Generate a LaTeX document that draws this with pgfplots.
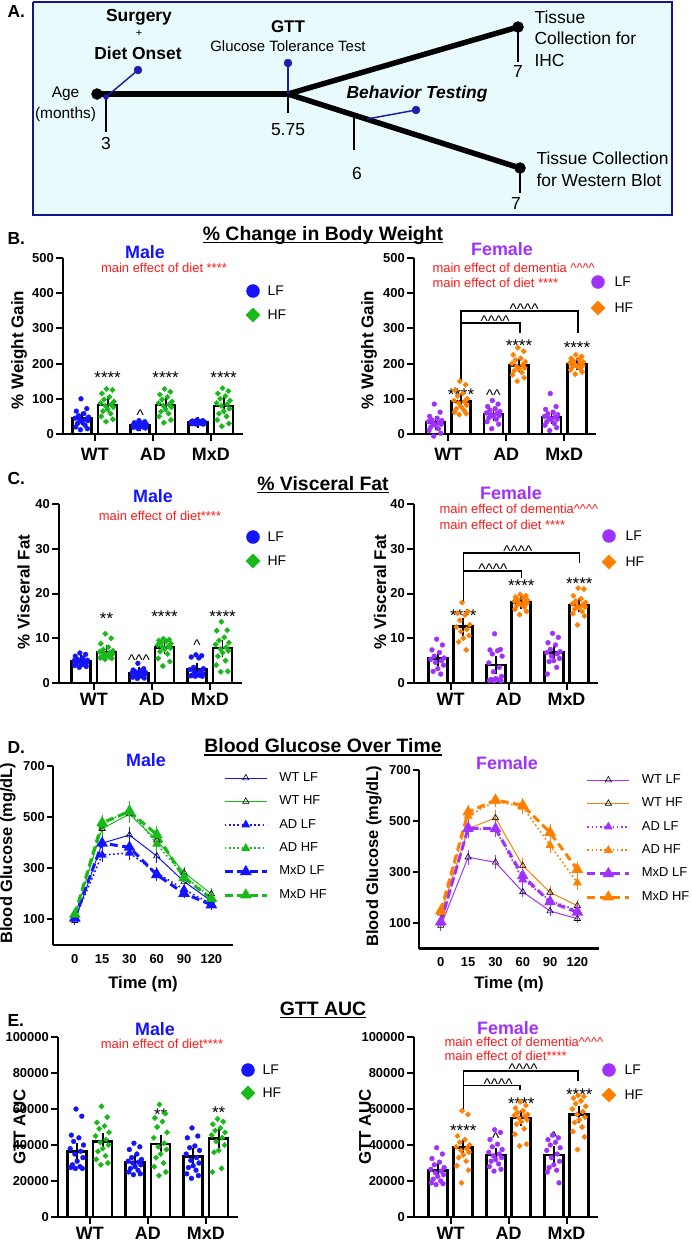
\documentclass[border=0pt]{standalone}
\usepackage{pgfplots}
\pgfplotsset{compat=1.18}
\usepackage{fontspec}
\setmainfont{Liberation Sans}

\definecolor{mblue}{RGB}{20,20,255}
\definecolor{mgreen}{RGB}{25,185,25}
\definecolor{fpurple}{RGB}{160,50,255}
\definecolor{forange}{RGB}{255,128,0}
\definecolor{nred}{RGB}{255,25,25}
\definecolor{navy}{RGB}{20,20,140}
\definecolor{tblue}{RGB}{30,30,170}
\definecolor{boxfill}{RGB}{232,250,252}
\newcommand{\fz}[1]{\fontsize{#1}{#1}\selectfont}
\newcommand{\ca}{\textasciicircum}

\pgfplotsset{
  barax/.style={scale only axis, anchor=south west, axis lines=left,
    axis line style={line width=2.2bp,-}, xmax=2.55, ymin=0, clip=false,
    xtick={0,1,2}, xticklabels={WT,AD,MxD},
    tick style={line width=2bp,black}, major tick length=7bp, tick align=outside,
    xticklabel style={font=\fz{18}\bfseries, inner sep=3bp},
    yticklabel style={font=\fz{13}\bfseries, inner sep=2bp},
    /pgf/number format/assume math mode=true, scaled y ticks=false},
  bars/.style={ybar, bar width=19bp, bar shift=0pt, fill=white, draw=black, line width=2.6bp,
    error bars/.cd, y dir=both, y explicit, error bar style={line width=1.8bp,black},
    error mark options={mark size=5bp,line width=1.8bp,black}},
  lfpt/.style={only marks, mark=*, mark size=2.4bp, #1},
  hfpt/.style={only marks, mark=square*, mark size=1.9bp, mark options={rotate=45}, #1},
  lineax/.style={scale only axis, anchor=south west, axis lines=left,
    axis line style={line width=2.2bp,-}, xmin=-0.8, xmax=5.8, ymin=0, ymax=700,
    clip=false, width=180.2bp,
    xtick={0,...,5}, xticklabels={0,15,30,60,90,120}, ytick={100,300,500,700},
    ytick style={line width=2bp,black}, xtick style={draw=none},
    major tick length=6bp, tick align=outside,
    ticklabel style={font=\fz{13}\bfseries},
    xticklabel style={inner sep=3bp}, yticklabel style={inner sep=2bp},
    /pgf/number format/assume math mode=true,
    legend cell align=left,
    legend style={draw=none, fill=none, font=\fz{13}, anchor=north west, inner sep=0pt,
      row sep=10.9bp, nodes={inner sep=0pt, text height=9.5bp, text depth=3bp},
      /tikz/every odd column/.append style={column sep=11bp}},
    legend image code/.code={\draw[mark repeat=2,mark phase=2,#1] plot coordinates {(0bp,0bp) (21bp,0bp) (42bp,0bp)};}},
  errD/.style={error bars/.cd, y dir=both, y explicit, error bar style={solid, line width=1bp},
    error mark options={solid, mark size=3bp, line width=1bp}},
  wt/.style={solid, line width=1bp, mark=triangle, mark size=3.6bp,
    mark options={solid, draw=black, fill=white, line width=0.6bp}},
  ad/.style={line width=1.6bp, dash pattern=on 1.6bp off 2.6bp, mark=triangle*, mark size=3.6bp,
    mark options={solid}},
  mxd/.style={line width=3bp, dash pattern=on 8bp off 4.5bp, mark=triangle*, mark size=3.8bp,
    mark options={solid}},
}

\begin{document}
\begin{tikzpicture}
\useasboundingbox (0,0) rectangle (692bp,-1240bp);

% ---------- canvas in pixel units: panel A, headings, legends ----------
\begin{axis}[at={(0bp,0bp)}, anchor=north west, scale only axis, width=692bp, height=1240bp,
  xmin=0, xmax=692, ymin=0, ymax=1240, y dir=reverse, hide axis, clip=false]
% panel A
\addplot[draw=navy, line width=2.5bp, fill=boxfill] coordinates {(33,2) (672,2) (672,215) (33,215) (33,2)};
\addplot[line width=1.5bp, black] coordinates {(106,94) (106,132)};
\addplot[line width=1.5bp, black] coordinates {(288,94) (288,113)};
\addplot[line width=1.5bp, black] coordinates {(354,115) (354,150)};
\addplot[line width=1.5bp, black] coordinates {(518,27) (518,62)};
\addplot[line width=1.5bp, black] coordinates {(520,168) (520,193)};
\addplot[line width=5.5bp, black] coordinates {(97,94) (288,94)};
\addplot[line width=5.5bp, black] coordinates {(288,94) (518,27)};
\addplot[line width=5.5bp, black] coordinates {(288,94) (520,168)};
\addplot[only marks, mark=*, mark size=5.5bp, black] coordinates {(97,94) (518,27) (520,168)};
\addplot[line width=1.5bp, tblue] coordinates {(106,97) (138,70)};
\addplot[line width=1.5bp, tblue] coordinates {(288,94) (288,63)};
\addplot[line width=1.5bp, tblue] coordinates {(367,119) (416,110)};
\addplot[only marks, mark=*, mark size=4bp, tblue] coordinates {(138,70) (288,63) (416,110)};
\addplot[only marks, mark=*, mark size=2.5bp, tblue] coordinates {(106,97)};
\node[anchor=west, font=\fz{17.5}\bfseries] at (axis cs:4,11) {A.};
\node[font=\fz{17.5}\bfseries] at (axis cs:139,17) {Surgery};
\node[font=\fz{11}] at (axis cs:139,33) {+};
\node[font=\fz{17.5}\bfseries] at (axis cs:138,53) {Diet Onset};
\node[font=\fz{17}\bfseries] at (axis cs:288,27) {GTT};
\node[font=\fz{15}] at (axis cs:288,46) {Glucose Tolerance Test};
\node[font=\fz{15.5}] at (axis cs:65.5,94) {Age};
\node[font=\fz{15.5}] at (axis cs:65.5,114) {(months)};
\node[font=\fz{17.5}] at (axis cs:106,143) {3};
\node[font=\fz{17.5}] at (axis cs:288,130) {5.75};
\node[font=\fz{17.5}] at (axis cs:357,173) {6};
\node[font=\fz{17.5}] at (axis cs:518,71) {7};
\node[font=\fz{17.5}] at (axis cs:516,203) {7};
\node[font=\fz{17.5}\bfseries\itshape] at (axis cs:417,94) {Behavior Testing};
\node[anchor=west, font=\fz{17.5}] at (axis cs:531,17) {Tissue};
\node[anchor=west, font=\fz{17.5}] at (axis cs:531,38) {Collection for};
\node[anchor=west, font=\fz{17.5}] at (axis cs:531,60) {IHC};
\node[anchor=west, font=\fz{17.5}] at (axis cs:533,158) {Tissue Collection};
\node[anchor=west, font=\fz{17.5}] at (axis cs:533,180) {for Western Blot};

% panel letters and titles
\node[anchor=west, font=\fz{17.5}\bfseries] at (axis cs:4,238) {B.};
\node[anchor=west, font=\fz{17.5}\bfseries] at (axis cs:4,478) {C.};
\node[anchor=west, font=\fz{17.5}\bfseries] at (axis cs:4,747) {D.};
\node[anchor=west, font=\fz{17.5}\bfseries] at (axis cs:4,1020) {E.};
\node[anchor=base, inner sep=0pt, font=\fz{19.5}\bfseries] (tB) at (axis cs:323,240) {\% Change in Body Weight};
\draw[line width=1.7bp] ([yshift=-2.5bp]tB.base west) -- ([yshift=-2.5bp]tB.base east);
\node[anchor=base, inner sep=0pt, font=\fz{19.5}\bfseries] (tC) at (axis cs:323,490) {\% Visceral Fat};
\draw[line width=1.7bp] ([yshift=-2.5bp]tC.base west) -- ([yshift=-2.5bp]tC.base east);
\node[anchor=base, inner sep=0pt, font=\fz{19.5}\bfseries] (tD) at (axis cs:323,752.5) {Blood Glucose Over Time};
\draw[line width=1.7bp] ([yshift=-2.5bp]tD.base west) -- ([yshift=-2.5bp]tD.base east);
\node[anchor=base, inner sep=0pt, font=\fz{19.5}\bfseries] (tE) at (axis cs:323,1015) {GTT AUC};
\draw[line width=1.7bp] ([yshift=-2.5bp]tE.base west) -- ([yshift=-2.5bp]tE.base east);

% sex headings
\node[font=\fz{18}\bfseries, text=mblue] at (axis cs:145,252) {Male};
\node[font=\fz{18}\bfseries, text=fpurple] at (axis cs:502,249) {Female};
\node[font=\fz{18}\bfseries, text=mblue] at (axis cs:153,496) {Male};
\node[font=\fz{18}\bfseries, text=fpurple] at (axis cs:511,493) {Female};
\node[font=\fz{18}\bfseries, text=mblue] at (axis cs:146,760) {Male};
\node[font=\fz{18}\bfseries, text=fpurple] at (axis cs:507,763) {Female};
\node[font=\fz{18}\bfseries, text=mblue] at (axis cs:155,1029) {Male};
\node[font=\fz{18}\bfseries, text=fpurple] at (axis cs:508,1028) {Female};

% statistics notes
\node[font=\fz{13}, text=nred] at (axis cs:164,268) {main effect of diet ****};
\node[anchor=west, font=\fz{13}, text=nred] at (axis cs:429,268) {main effect of dementia \ca\ca\ca\ca};
\node[anchor=west, font=\fz{13}, text=nred] at (axis cs:429,283) {main effect of diet ****};
\node[font=\fz{13}, text=nred] at (axis cs:160,516) {main effect of diet****};
\node[anchor=west, font=\fz{13}, text=nred] at (axis cs:436,509) {main effect of dementia\ca\ca\ca\ca};
\node[anchor=west, font=\fz{13}, text=nred] at (axis cs:436,525) {main effect of diet ****};
\node[font=\fz{13}, text=nred] at (axis cs:162,1044) {main effect of diet****};
\node[anchor=west, font=\fz{13}, text=nred] at (axis cs:441,1042) {main effect of dementia\ca\ca\ca\ca};
\node[anchor=west, font=\fz{13}, text=nred] at (axis cs:441,1056) {main effect of diet****};

% y labels
\node[rotate=90, font=\fz{17}\bfseries] at (axis cs:19,350) {\% Weight Gain};
\node[rotate=90, font=\fz{17}\bfseries] at (axis cs:369,350) {\% Weight Gain};
\node[rotate=90, font=\fz{17}\bfseries] at (axis cs:23.5,592) {\% Visceral Fat};
\node[rotate=90, font=\fz{17}\bfseries] at (axis cs:380,592) {\% Visceral Fat};
\node[rotate=90, font=\fz{17}\bfseries] at (axis cs:19.5,1127) {GTT AUC};
\node[rotate=90, font=\fz{17}\bfseries] at (axis cs:365,1127) {GTT AUC};
\node[rotate=90, anchor=west, font=\fz{16.5}\bfseries] at (axis cs:8,947) {Blood Glucose (mg/dL)};
\node[rotate=90, anchor=west, font=\fz{16.5}\bfseries] at (axis cs:374,950) {Blood Glucose (mg/dL)};
\node[font=\fz{16.8}\bfseries] at (axis cs:143,984) {Time (m)};
\node[font=\fz{16.8}\bfseries] at (axis cs:509,984) {Time (m)};

% legends of the bar charts
\addplot[only marks, mark=*, mark size=6.5bp, mblue] coordinates {(253,291) (253,537) (248,1070)};
\addplot[only marks, mark=square*, mark size=5bp, mark options={rotate=45}, mgreen] coordinates {(253,315) (253,561) (248,1093)};
\addplot[only marks, mark=*, mark size=6.5bp, fpurple] coordinates {(598,282) (609,536) (609,1070)};
\addplot[only marks, mark=square*, mark size=5bp, mark options={rotate=45}, forange] coordinates {(598,308) (609,562) (609,1095)};
\node[anchor=west, font=\fz{14}] at (axis cs:264,291) {LF};
\node[anchor=west, font=\fz{14}] at (axis cs:264,315) {HF};
\node[anchor=west, font=\fz{14}] at (axis cs:611,282) {LF};
\node[anchor=west, font=\fz{14}] at (axis cs:611,308) {HF};
\node[anchor=west, font=\fz{14}] at (axis cs:264,537) {LF};
\node[anchor=west, font=\fz{14}] at (axis cs:264,561) {HF};
\node[anchor=west, font=\fz{14}] at (axis cs:622,536) {LF};
\node[anchor=west, font=\fz{14}] at (axis cs:622,562) {HF};
\node[anchor=west, font=\fz{14}] at (axis cs:259,1070) {LF};
\node[anchor=west, font=\fz{14}] at (axis cs:259,1093) {HF};
\node[anchor=west, font=\fz{14}] at (axis cs:621,1070) {LF};
\node[anchor=west, font=\fz{14}] at (axis cs:621,1095) {HF};
\end{axis}

% ---------- B. % change in body weight ----------
\begin{axis}[barax, at={(63bp,-434bp)}, xmin=-0.55, width=179.8bp, height=176bp, ymax=500,
  ytick={0,100,...,500}, xticklabel style={yshift=-4bp}]
\addplot[bars] coordinates {(-0.22,43.6) +- (0,5) (0.22,82) +- (0,6) (0.78,25) +- (0,1.5) (1.22,82) +- (0,6) (1.78,33) +- (0,1) (2.22,80) +- (0,10)};
\addplot[lfpt=mblue] coordinates {
(-0.24,100)(-0.14,72)(-0.32,65)(-0.19,58)(-0.28,52)(-0.11,48)(-0.34,45)(-0.16,42)(-0.26,40)(-0.12,38)(-0.22,35)(-0.30,30)(-0.17,25)(-0.33,20)(-0.13,15)(-0.25,12)
(0.76,38)(0.86,35)(0.68,32)(0.81,30)(0.72,28)(0.89,27)(0.66,26)(0.84,25)(0.74,24)(0.88,23)(0.78,22)(0.70,21)(0.83,20)(0.67,19)(0.87,17)(0.75,15)
(1.76,40)(1.86,38)(1.68,37)(1.81,36)(1.72,35)(1.89,34)(1.66,34)(1.84,33)(1.74,33)(1.88,32)(1.78,31)(1.70,30)(1.83,30)(1.67,29)(1.87,28)(1.75,28)};
\addplot[hfpt=mgreen] coordinates {
(0.20,128)(0.30,125)(0.12,115)(0.25,105)(0.16,98)(0.33,92)(0.10,88)(0.28,84)(0.18,80)(0.32,76)(0.22,70)(0.14,65)(0.27,58)(0.11,50)(0.31,42)(0.19,35)
(1.20,128)(1.30,120)(1.12,112)(1.25,105)(1.16,98)(1.33,92)(1.10,88)(1.28,84)(1.18,80)(1.32,76)(1.22,70)(1.14,64)(1.27,58)(1.11,50)(1.31,40)(1.19,32)
(2.20,130)(2.30,122)(2.12,115)(2.25,108)(2.16,100)(2.33,95)(2.10,88)(2.28,85)(2.18,80)(2.32,72)(2.22,65)(2.14,58)(2.27,50)(2.11,40)(2.31,30)(2.19,22)};
\node[font=\fz{17}] at (axis cs:0.22,160) {****};
\node[font=\fz{17}] at (axis cs:1.22,160) {****};
\node[font=\fz{17}] at (axis cs:2.22,160) {****};
\node[font=\fz{15.5}] at (axis cs:0.78,53) {\ca};
\end{axis}

\begin{axis}[barax, at={(414bp,-434bp)}, xmin=-0.59, width=182.1bp, height=176bp, ymax=500,
  ytick={0,100,...,500}, xticklabel style={yshift=-4bp}]
\addplot[bars] coordinates {(-0.22,32) +- (0,5) (0.22,93) +- (0,7) (0.78,57) +- (0,5) (1.22,195) +- (0,5) (1.78,48) +- (0,6) (2.22,199) +- (0,4)};
\addplot[lfpt=fpurple] coordinates {
(-0.24,85)(-0.14,62)(-0.32,50)(-0.19,45)(-0.28,40)(-0.11,38)(-0.34,35)(-0.16,32)(-0.26,30)(-0.12,28)(-0.22,25)(-0.30,20)(-0.17,15)(-0.33,10)(-0.13,2)(-0.25,-6)
(0.76,95)(0.86,85)(0.68,78)(0.81,72)(0.72,68)(0.89,64)(0.66,60)(0.84,58)(0.74,55)(0.88,52)(0.78,50)(0.70,46)(0.83,42)(0.67,35)(0.87,28)(0.75,15)
(1.76,115)(1.86,78)(1.68,70)(1.81,62)(1.72,58)(1.89,55)(1.66,50)(1.84,48)(1.74,45)(1.88,42)(1.78,40)(1.70,35)(1.83,30)(1.67,25)(1.87,18)(1.75,10)};
\addplot[hfpt=forange] coordinates {
(0.20,150)(0.30,140)(0.12,125)(0.25,115)(0.16,108)(0.33,100)(0.10,95)(0.28,92)(0.18,88)(0.32,82)(0.22,78)(0.14,72)(0.27,68)(0.11,62)(0.31,58)(0.19,55)
(1.20,245)(1.30,235)(1.12,225)(1.25,215)(1.16,210)(1.33,205)(1.10,200)(1.28,196)(1.18,192)(1.32,188)(1.22,185)(1.14,180)(1.27,175)(1.11,168)(1.31,160)(1.19,150)
(2.20,225)(2.30,220)(2.12,215)(2.25,212)(2.16,208)(2.33,205)(2.10,202)(2.28,200)(2.18,198)(2.32,195)(2.22,192)(2.14,190)(2.27,186)(2.11,182)(2.31,176)(2.19,170)};
\draw[line width=1.5bp] (axis cs:0.22,147) -- (axis cs:0.22,349) -- (axis cs:2.24,349) -- (axis cs:2.24,287);
\draw[line width=1.5bp] (axis cs:0.22,316) -- (axis cs:1.24,316) -- (axis cs:1.24,287);
\node[font=\fz{15.5}] at (axis cs:1.31,354) {\ca\ca\ca\ca};
\node[font=\fz{15.5}] at (axis cs:0.81,321) {\ca\ca\ca\ca};
\node[font=\fz{17}] at (axis cs:0.22,112) {****};
\node[font=\fz{17}] at (axis cs:1.22,250) {****};
\node[font=\fz{17}] at (axis cs:2.22,245) {****};
\node[font=\fz{15.5}] at (axis cs:0.78,109) {\ca\ca};
\end{axis}

% ---------- C. % visceral fat ----------
\begin{axis}[barax, at={(59bp,-683bp)}, xmin=-0.6, width=182.7bp, height=179bp, ymax=40,
  ytick={0,10,20,30,40}]
\addplot[bars] coordinates {(-0.22,4.9) +- (0,0.2) (0.22,6.9) +- (0,0.4) (0.78,2.2) +- (0,0.2) (1.22,8.0) +- (0,0.3) (1.78,3.0) +- (0,0.4) (2.22,7.8) +- (0,0.8)};
\addplot[lfpt=mblue] coordinates {
(-0.24,6.7)(-0.14,6.4)(-0.32,6.0)(-0.19,5.6)(-0.28,5.3)(-0.11,5.1)(-0.34,5.0)(-0.16,4.9)(-0.26,4.8)(-0.12,4.6)(-0.22,4.5)(-0.30,4.3)(-0.17,4.1)(-0.33,3.9)(-0.13,3.7)(-0.25,3.5)
(0.76,4.4)(0.86,3.2)(0.68,2.9)(0.81,2.7)(0.72,2.5)(0.89,2.4)(0.66,2.3)(0.84,2.2)(0.74,2.1)(0.88,2.0)(0.78,1.9)(0.70,1.7)(0.83,1.5)(0.67,1.3)(0.87,1.1)(0.75,1.0)
(1.76,6.3)(1.86,6.1)(1.68,5.8)(1.81,5.6)(1.72,3.5)(1.89,3.2)(1.66,3.0)(1.84,2.7)(1.74,2.4)(1.88,2.1)(1.78,1.9)(1.70,1.8)(1.83,1.7)(1.67,1.6)(1.87,1.5)(1.75,1.5)};
\addplot[hfpt=mgreen] coordinates {
(0.20,11.0)(0.30,10.0)(0.12,8.8)(0.25,8.0)(0.16,7.5)(0.33,7.2)(0.10,7.0)(0.28,6.8)(0.18,6.6)(0.32,6.4)(0.22,6.2)(0.14,6.0)(0.27,5.8)(0.11,5.6)(0.31,5.5)(0.19,5.3)
(1.20,9.9)(1.30,9.7)(1.12,9.5)(1.25,9.3)(1.16,9.0)(1.33,8.8)(1.10,8.5)(1.28,8.2)(1.18,8.0)(1.32,7.8)(1.22,7.5)(1.14,7.0)(1.27,6.5)(1.11,5.5)(1.31,4.8)(1.19,3.8)
(2.20,13.7)(2.30,11.8)(2.12,11.7)(2.25,10.2)(2.16,9.5)(2.33,9.0)(2.10,8.6)(2.28,8.0)(2.18,7.6)(2.32,7.2)(2.22,6.8)(2.14,6.0)(2.27,5.0)(2.11,4.0)(2.31,2.6)(2.19,2.5)};
\node[font=\fz{17}] at (axis cs:0.22,14.4) {**};
\node[font=\fz{17}] at (axis cs:1.22,14.8) {****};
\node[font=\fz{17}] at (axis cs:2.22,14.8) {****};
\node[font=\fz{15.5}] at (axis cs:0.78,5.2) {\ca\ca\ca};
\node[font=\fz{15.5}] at (axis cs:1.78,8.4) {\ca};
\end{axis}

\begin{axis}[barax, at={(414bp,-683bp)}, xmin=-0.63, width=184.4bp, height=179bp, ymax=40,
  ytick={0,10,20,30,40}]
\addplot[bars] coordinates {(-0.22,5.5) +- (0,0.6) (0.22,12.6) +- (0,0.9) (0.78,4.0) +- (0,0.9) (1.22,18.0) +- (0,0.3) (1.78,6.8) +- (0,0.6) (2.22,17.4) +- (0,0.5)};
\addplot[lfpt=fpurple] coordinates {
(-0.24,9.8)(-0.14,8.5)(-0.32,7.4)(-0.19,6.8)(-0.28,6.0)(-0.11,5.6)(-0.34,5.3)(-0.16,5.0)(-0.26,4.6)(-0.12,4.0)(-0.22,3.2)(-0.30,2.6)(-0.17,2.0)
(0.76,11.0)(0.86,7.5)(0.68,7.4)(0.81,7.2)(0.72,6.5)(0.89,6.0)(0.66,4.5)(0.84,3.5)(0.74,2.5)(0.88,1.5)(0.78,1.0)(0.70,0.8)(0.83,0.7)(0.67,0.6)(0.87,0.5)(0.75,0.5)
(1.76,11.1)(1.86,10.2)(1.68,9.0)(1.81,8.5)(1.72,7.5)(1.89,7.0)(1.66,6.8)(1.84,6.5)(1.74,6.0)(1.88,5.5)(1.78,5.0)(1.70,4.8)(1.83,3.5)(1.67,2.0)};
\addplot[hfpt=forange] coordinates {
(0.20,18.0)(0.30,16.0)(0.12,15.6)(0.25,15.2)(0.16,14.0)(0.33,13.0)(0.10,12.5)(0.28,12.0)(0.18,11.5)(0.32,10.6)(0.22,10.0)(0.14,9.2)(0.27,7.4)
(1.20,19.8)(1.30,19.5)(1.12,19.2)(1.25,19.0)(1.16,18.7)(1.33,18.5)(1.10,18.3)(1.28,18.1)(1.18,18.0)(1.32,17.8)(1.22,17.5)(1.14,17.3)(1.27,17.0)(1.11,16.5)(1.31,16.0)(1.19,15.3)
(2.20,21.2)(2.30,21.0)(2.12,19.5)(2.25,18.8)(2.16,18.3)(2.33,18.0)(2.10,17.7)(2.28,17.5)(2.18,17.2)(2.32,17.0)(2.22,16.8)(2.14,16.5)(2.27,16.0)(2.11,15.5)(2.31,15.0)(2.19,13.0)};
\draw[line width=1.5bp] (axis cs:0.22,17.9) -- (axis cs:0.22,29) -- (axis cs:2.22,29) -- (axis cs:2.22,26.8);
\draw[line width=1.5bp] (axis cs:0.22,25) -- (axis cs:1.22,25) -- (axis cs:1.22,23.4);
\node[font=\fz{15.5}] at (axis cs:1.16,29.4) {\ca\ca\ca\ca};
\node[font=\fz{15.5}] at (axis cs:0.73,25.4) {\ca\ca\ca\ca};
\node[font=\fz{17}] at (axis cs:0.22,15.0) {****};
\node[font=\fz{17}] at (axis cs:1.22,21.7) {****};
\node[font=\fz{17}] at (axis cs:2.22,22.2) {****};
\end{axis}

% ---------- D. blood glucose over time ----------
\begin{axis}[lineax, at={(53bp,-945bp)}, height=179bp,
  legend style={at={(rel axis cs:0.944,0.969)}}]
\addplot[mblue, wt, errD] coordinates {(0,95) +- (0,6) (1,398) +- (0,15) (2,430) +- (0,18) (3,348) +- (0,15) (4,248) +- (0,12) (5,172) +- (0,8)};
\addlegendentry{WT LF}
\addplot[mgreen, wt, errD] coordinates {(0,112) +- (0,8) (1,455) +- (0,22) (2,512) +- (0,22) (3,410) +- (0,18) (4,283) +- (0,12) (5,200) +- (0,10)};
\addlegendentry{WT HF}
\addplot[mblue, ad, errD] coordinates {(0,105) +- (0,6) (1,352) +- (0,15) (2,360) +- (0,15) (3,282) +- (0,12) (4,218) +- (0,10) (5,160) +- (0,8)};
\addlegendentry{AD LF}
\addplot[mgreen, ad, errD] coordinates {(0,115) +- (0,8) (1,470) +- (0,20) (2,530) +- (0,20) (3,395) +- (0,20) (4,270) +- (0,15) (5,185) +- (0,10)};
\addlegendentry{AD HF}
\addplot[mblue, mxd, errD] coordinates {(0,105) +- (0,6) (1,398) +- (0,15) (2,382) +- (0,18) (3,275) +- (0,12) (4,202) +- (0,8) (5,157) +- (0,8)};
\addlegendentry{MxD LF}
\addplot[mgreen, mxd, errD] coordinates {(0,120) +- (0,8) (1,478) +- (0,20) (2,522) +- (0,25) (3,432) +- (0,20) (4,263) +- (0,15) (5,182) +- (0,10)};
\addlegendentry{MxD HF}
\end{axis}

\begin{axis}[lineax, at={(419bp,-948.5bp)}, height=178.5bp,
  legend style={at={(rel axis cs:0.925,0.98)}}]
\addplot[fpurple, wt, errD] coordinates {(0,90) +- (0,8) (1,358) +- (0,18) (2,338) +- (0,15) (3,222) +- (0,10) (4,147) +- (0,6) (5,117) +- (0,6)};
\addlegendentry{WT LF}
\addplot[forange, wt, errD] coordinates {(0,138) +- (0,8) (1,470) +- (0,22) (2,512) +- (0,20) (3,325) +- (0,20) (4,220) +- (0,12) (5,168) +- (0,10)};
\addlegendentry{WT HF}
\addplot[fpurple, ad, errD] coordinates {(0,100) +- (0,8) (1,468) +- (0,22) (2,468) +- (0,18) (3,270) +- (0,15) (4,188) +- (0,10) (5,150) +- (0,8)};
\addlegendentry{AD LF}
\addplot[forange, ad, errD] coordinates {(0,142) +- (0,10) (1,520) +- (0,15) (2,578) +- (0,12) (3,555) +- (0,15) (4,405) +- (0,20) (5,258) +- (0,18)};
\addlegendentry{AD HF}
\addplot[fpurple, mxd, errD] coordinates {(0,105) +- (0,8) (1,472) +- (0,20) (2,470) +- (0,18) (3,285) +- (0,15) (4,183) +- (0,10) (5,142) +- (0,8)};
\addlegendentry{MxD LF}
\addplot[forange, mxd, errD] coordinates {(0,148) +- (0,10) (1,535) +- (0,15) (2,582) +- (0,12) (3,562) +- (0,15) (4,455) +- (0,20) (5,310) +- (0,18)};
\addlegendentry{MxD HF}
\end{axis}

% ---------- E. GTT AUC ----------
\begin{axis}[barax, at={(58bp,-1217bp)}, xmin=-0.55, width=179.8bp, height=180bp, ymax=100000,
  ytick={0,20000,40000,60000,80000,100000}, yticklabels={0,20000,40000,60000,80000,100000}]
\addplot[bars] coordinates {(-0.22,36500) +- (0,2000) (0.22,42000) +- (0,1800) (0.78,30500) +- (0,1200) (1.22,40500) +- (0,2500) (1.78,33500) +- (0,2000) (2.22,43500) +- (0,2500)};
\addplot[lfpt=mblue] coordinates {
(-0.24,60000)(-0.14,56000)(-0.32,45500)(-0.19,44000)(-0.28,42000)(-0.11,40000)(-0.34,38000)(-0.16,36500)(-0.26,35000)(-0.12,33000)(-0.22,31000)(-0.30,29000)(-0.17,28000)(-0.33,27500)(-0.13,27000)(-0.25,27000)
(0.76,41000)(0.86,39000)(0.68,37500)(0.81,35000)(0.72,33000)(0.89,32000)(0.66,31000)(0.84,30500)(0.74,30000)(0.88,29000)(0.78,28000)(0.70,27000)(0.83,26000)(0.67,25000)(0.87,24000)(0.75,23500)
(1.76,49500)(1.86,45000)(1.68,44000)(1.81,39500)(1.72,38500)(1.89,37000)(1.66,35000)(1.84,33000)(1.74,31500)(1.88,30000)(1.78,28500)(1.70,27500)(1.83,26000)(1.67,24000)(1.87,23000)(1.75,21500)};
\addplot[hfpt=mgreen] coordinates {
(0.20,61500)(0.30,55500)(0.12,52500)(0.25,50500)(0.16,49000)(0.33,47000)(0.10,45000)(0.28,43000)(0.18,41500)(0.32,40000)(0.22,38000)(0.14,36500)(0.27,34000)(0.11,32000)(0.31,30000)(0.19,29000)
(1.20,62500)(1.30,57500)(1.12,55000)(1.25,53000)(1.16,50000)(1.33,47000)(1.10,44000)(1.28,41000)(1.18,39000)(1.32,37500)(1.22,35000)(1.14,33000)(1.27,30000)(1.11,28000)(1.31,25000)(1.19,23000)
(2.20,54500)(2.30,53000)(2.12,51500)(2.25,49500)(2.16,48000)(2.33,47000)(2.10,45500)(2.28,44000)(2.18,42000)(2.32,40000)(2.22,37000)(2.14,36000)(2.27,27000)(2.11,25000)};
\node[font=\fz{17}] at (axis cs:1.22,57000) {**};
\node[font=\fz{17}] at (axis cs:2.22,58000) {**};
\end{axis}

\begin{axis}[barax, at={(414bp,-1217bp)}, xmin=-0.63, width=184.4bp, height=180bp, ymax=100000,
  ytick={0,20000,40000,60000,80000,100000}, yticklabels={0,20000,40000,60000,80000,100000}]
\addplot[bars] coordinates {(-0.22,26000) +- (0,1200) (0.22,38500) +- (0,2000) (0.78,34500) +- (0,1300) (1.22,55000) +- (0,1500) (1.78,34500) +- (0,2000) (2.22,57000) +- (0,2000)};
\addplot[lfpt=fpurple] coordinates {
(-0.24,38500)(-0.14,35000)(-0.32,32500)(-0.19,30500)(-0.28,29000)(-0.11,27500)(-0.34,26500)(-0.16,25500)(-0.26,24500)(-0.12,23500)(-0.22,22500)(-0.30,21000)(-0.17,20000)(-0.33,19000)(-0.13,18500)(-0.25,18000)
(0.76,48500)(0.86,47000)(0.68,43000)(0.81,40500)(0.72,39000)(0.89,37500)(0.66,36000)(0.84,35000)(0.74,34000)(0.88,33000)(0.78,32000)(0.70,31000)(0.83,29500)(0.67,28000)(0.87,26500)(0.75,25500)
(1.76,45500)(1.86,44000)(1.68,43000)(1.81,41500)(1.72,40000)(1.89,38500)(1.66,37000)(1.84,35000)(1.74,33000)(1.88,31000)(1.78,29000)(1.70,27500)(1.83,26000)(1.67,25000)(1.87,19000)};
\addplot[hfpt=forange] coordinates {
(0.20,59000)(0.30,57000)(0.12,45000)(0.25,43000)(0.16,41500)(0.33,40000)(0.10,39000)(0.28,38000)(0.18,37000)(0.32,36000)(0.22,34500)(0.14,33000)(0.27,31000)(0.11,28500)(0.31,26000)(0.19,19000)
(1.20,64000)(1.30,62000)(1.12,60500)(1.25,59000)(1.16,58000)(1.33,57000)(1.10,56500)(1.28,56000)(1.18,55000)(1.32,54000)(1.22,53000)(1.14,51500)(1.27,49000)(1.11,46000)(1.31,40500)(1.19,39500)
(2.20,67500)(2.30,67000)(2.12,66000)(2.25,64500)(2.16,63000)(2.33,61500)(2.10,60000)(2.28,58500)(2.18,57000)(2.32,55500)(2.22,54000)(2.14,52500)(2.27,50000)(2.11,47500)(2.31,44500)(2.19,37500)};
\draw[line width=1.5bp] (axis cs:0.22,60000) -- (axis cs:0.22,81000) -- (axis cs:2.2,81000) -- (axis cs:2.2,75500);
\draw[line width=1.5bp] (axis cs:0.22,73000) -- (axis cs:1.2,73000) -- (axis cs:1.2,70500);
\node[font=\fz{15.5}] at (axis cs:1.25,82000) {\ca\ca\ca\ca};
\node[font=\fz{15.5}] at (axis cs:0.82,74000) {\ca\ca\ca\ca};
\node[font=\fz{17}] at (axis cs:0.22,48000) {****};
\node[font=\fz{17}] at (axis cs:1.22,63000) {****};
\node[font=\fz{17}] at (axis cs:2.22,68000) {****};
\node[font=\fz{15.5}] at (axis cs:0.78,44000) {\ca};
\node[font=\fz{15.5}] at (axis cs:1.78,44500) {\ca};
\end{axis}
\end{tikzpicture}
\end{document}
